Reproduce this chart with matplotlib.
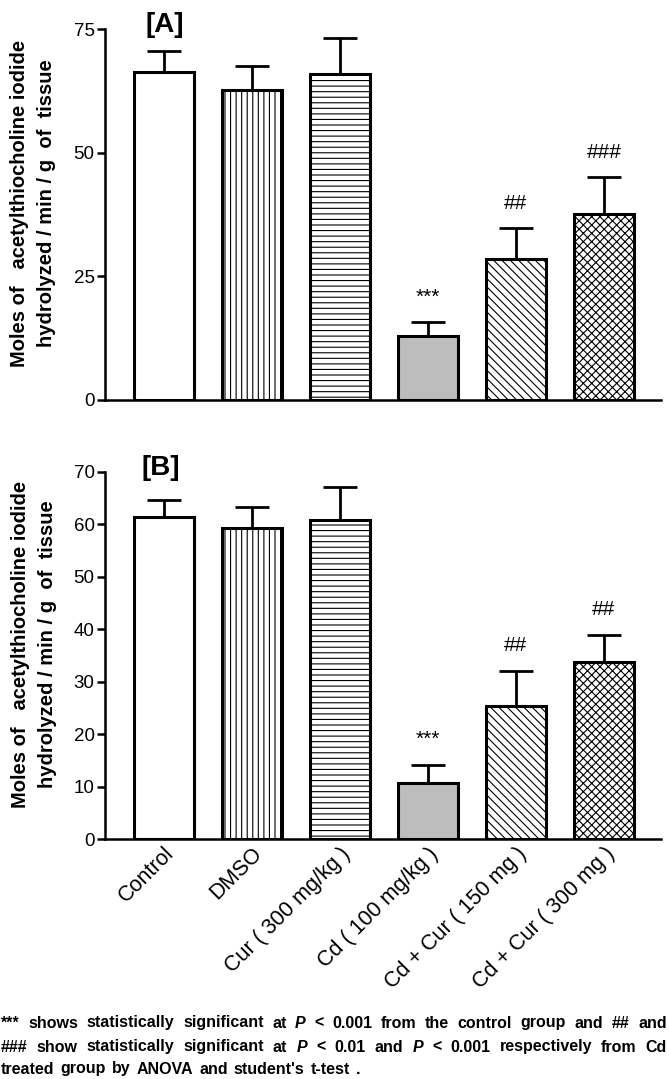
import numpy as np
import matplotlib
matplotlib.use("Agg")
import matplotlib.pyplot as plt

plt.rcParams['hatch.linewidth'] = 0.8
plt.rcParams['font.family'] = ['Liberation Sans', 'DejaVu Sans']

groups = ["Control", "DMSO", "Cur ( 300 mg/kg )", "Cd ( 100 mg/kg )",
          "Cd + Cur ( 150 mg )", "Cd + Cur ( 300 mg )"]
# panel A
mean_a = [66.4, 62.6, 66.0, 12.9, 28.6, 37.7]
err_a = [4.2, 5.0, 7.2, 2.9, 6.2, 7.4]
sig_a = ["", "", "", "***", "##", "###"]
# panel B
mean_b = [61.4, 59.3, 60.9, 10.7, 25.3, 33.8]
err_b = [3.2, 4.1, 6.2, 3.5, 6.8, 5.2]
sig_b = ["", "", "", "***", "##", "##"]

fills = ["white", "white", "white", "#bdbdbd", "white", "white"]
hatches = [None, "|||", "---", None, "\\\\\\\\", "xxxx"]

fig = plt.figure(figsize=(6.69, 10.79), dpi=100)
W, H = 669, 1079


def px_axes(left, top, right, bottom):
    return fig.add_axes([left / W, 1 - bottom / H, (right - left) / W, (bottom - top) / H])


def draw_panel(ax, means, errs, sigs, ymax, step):
    x = np.arange(len(means))
    ax.errorbar(x, means, yerr=[np.zeros(len(errs)), errs], fmt='none',
                ecolor='black', elinewidth=2, capsize=12, capthick=2, zorder=1)
    bars = ax.bar(x, means, width=0.68, color=fills, edgecolor='black',
                  linewidth=2.2, zorder=2)
    for b, h in zip(bars, hatches):
        if h:
            b.set_hatch(h)
    for xi, m, e, s in zip(x, means, errs, sigs):
        if s:
            ax.annotate(s, (xi, m + e), xytext=(0, 11), textcoords='offset points',
                        ha='center', va='bottom', fontsize=15)
    ax.set_xlim(-0.67, 5.65)
    ax.set_ylim(0, ymax)
    ax.set_yticks(np.arange(0, ymax + 1, step))
    for sp in ['top', 'right']:
        ax.spines[sp].set_visible(False)
    for sp in ['left', 'bottom']:
        ax.spines[sp].set_linewidth(1.8)
    ax.tick_params(axis='y', length=6, width=1.8, pad=1.5, labelsize=13.5)
    ax.tick_params(axis='x', length=0)


ax_a = px_axes(105, 29, 661, 400)
draw_panel(ax_a, mean_a, err_a, sig_a, 75, 25)
ax_a.set_xticks([])

ax_b = px_axes(105, 472, 661, 839)
draw_panel(ax_b, mean_b, err_b, sig_b, 70, 10)
ax_b.set_xticks(np.arange(len(groups)))
ax_b.set_xticklabels(groups, rotation=45, ha='right', rotation_mode='anchor',
                     fontsize=15.5)
ax_b.tick_params(axis='x', pad=3)

fig.text(165 / W, 1 - 25 / H, "[A]", ha='center', va='center', fontsize=20, fontweight='bold')
fig.text(161 / W, 1 - 468 / H, "[B]", ha='center', va='center', fontsize=20, fontweight='bold')

ylab = "Moles of   acetylthiocholine iodide\nhydrolyzed / min / g  of  tissue"
fig.text(33 / W, 1 - 203 / H, ylab, rotation=90, ha='center', va='center',
         fontsize=14.5, fontweight='bold', linespacing=1.55, multialignment='center')
fig.text(34 / W, 1 - 644 / H, ylab, rotation=90, ha='center', va='center',
         fontsize=14.5, fontweight='bold', linespacing=1.55, multialignment='center')

# footnote, lines 1-2 justified to full width
foot = [
    ("*** shows statistically significant at *P < 0.001 from the control group and ## and", 1023, True),
    ("### show statistically significant at *P < 0.01 and *P < 0.001 respectively from Cd", 1047, True),
    ("treated group by ANOVA and student's t-test .", 1069, False),
]
fig.canvas.draw()
renderer = fig.canvas.get_renderer()
x0, x1 = 1, 667
for line, ypx, justify in foot:
    items = []
    for w in line.split():
        italic = w.startswith('*') and w != '***'
        word = w[1:] if italic else w
        t = fig.text(0, 1 - ypx / H, word, ha='left', va='center', fontsize=11.5,
                     fontweight='bold', style='italic' if italic else 'normal')
        items.append(t)
    widths = [t.get_window_extent(renderer).width for t in items]
    space = 6.0
    if justify:
        space = (x1 - x0 - sum(widths)) / (len(items) - 1)
    pos = x0
    for t, w in zip(items, widths):
        t.set_x(pos / W)
        pos += w + space

fig.savefig("out.png", dpi=100)
